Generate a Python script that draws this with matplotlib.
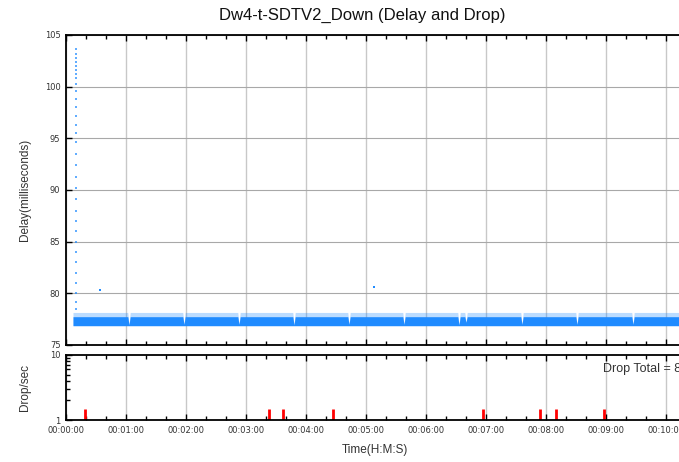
import numpy as np
import matplotlib
matplotlib.use("Agg")
import matplotlib.pyplot as plt
from matplotlib.ticker import FixedLocator, MultipleLocator, NullFormatter, FuncFormatter

plt.rcParams['font.family'] = ['Liberation Sans', 'DejaVu Sans']

# ---- delay data (seconds since start, milliseconds) ----
band_start = 7.0
band_end = 640.0
band_low = 76.87          # bottom of the dense delay band
band_high = 77.74         # top of the dense delay band
band_sparse_high = 78.15  # scattered samples above the band
# short dips where samples are missing
gap_times = [63, 118, 173, 228, 283, 338, 393, 400, 456, 511, 567, 622]
gap_depth = [76.95, 77.0, 77.0, 76.95, 77.0, 77.0, 76.95, 77.2, 77.0, 77.0, 77.0, 77.0]

# start-up spike around t=9s
spike_time = 9.6
spike_delay = [103.6, 103.2, 102.8, 102.4, 102.0, 101.6, 101.2, 100.8, 100.3, 99.6,
               98.8, 98.0, 97.2, 96.3, 95.5, 94.6, 93.5, 92.4, 91.3, 90.2, 89.1,
               88.0, 87.0, 86.0, 85.0, 84.0, 83.0, 82.0, 81.0, 80.0, 79.2, 78.5]
outlier_time = [34, 308]
outlier_delay = [80.3, 80.6]

# ---- drop data ----
drop_times = [19, 203, 217, 267, 417, 474, 490, 538]
drop_rate = [1.5, 1.5, 1.5, 1.5, 1.5, 1.5, 1.5, 1.5]

title = "Dw4-t-SDTV2_Down (Delay and Drop)"
blue = '#1f8bff'
txt = '#333333'


def hms(x, pos=None):
    s = int(round(x))
    return f"{s // 3600:02d}:{(s % 3600) // 60:02d}:{s % 60:02d}"


# build the outline of the band with notches at the gaps
t = [band_start]
hi = [band_high]
for g, d in zip(gap_times, gap_depth):
    t += [g - 1.2, g, g + 1.2]
    hi += [band_high, d, band_high]
t.append(band_end)
hi.append(band_high)
t = np.array(t)
hi = np.array(hi)
hi_sparse = np.where(hi < band_high, hi, band_sparse_high)

fig = plt.figure(figsize=(6.79, 4.62), dpi=100)
W, H = 679, 462
left = 66 / W
width = (684 - 66) / W
ax = fig.add_axes([left, 1 - 345 / H, width, (345 - 35) / H])
ax2 = fig.add_axes([left, 1 - 420 / H, width, (420 - 355) / H])

xmax = 618

# --- delay panel ---
ax.fill_between(t, band_low, hi_sparse, color=blue, alpha=0.3, lw=0)
ax.fill_between(t, band_low, hi, color=blue, lw=0)
ax.scatter([spike_time] * len(spike_delay), spike_delay, s=0.8, color=blue,
           marker='s', lw=0, alpha=0.7)
ax.scatter(outlier_time, outlier_delay, s=0.8, color=blue, marker='s', lw=0)

ax.set_xlim(0, xmax)
ax.set_ylim(75, 105)
ax.yaxis.set_major_locator(MultipleLocator(5))
ax.xaxis.set_major_locator(MultipleLocator(60))
ax.xaxis.set_minor_locator(MultipleLocator(20))
ax.xaxis.set_major_formatter(NullFormatter())
ax.grid(axis='x', color='#c8c8c8', lw=1.0)
ax.grid(axis='y', color='#a8a8a8', lw=0.8)
ax.set_axisbelow(True)
ax.set_ylabel("Delay(milliseconds)", fontsize=8.5, color=txt)

# --- drop panel ---
ax2.set_yscale('log')
ax2.vlines(drop_times, 1, drop_rate, color='#ff0000', lw=2.0)
ax2.set_xlim(0, xmax)
ax2.set_ylim(1, 10)
ax2.yaxis.set_major_locator(FixedLocator([1, 10]))
ax2.yaxis.set_major_formatter(FuncFormatter(lambda v, p: f"{int(v)}"))
ax2.yaxis.set_minor_locator(FixedLocator([2, 3, 4, 5, 6, 7, 8, 9]))
ax2.yaxis.set_minor_formatter(NullFormatter())
ax2.xaxis.set_major_locator(MultipleLocator(60))
ax2.xaxis.set_minor_locator(MultipleLocator(20))
ax2.xaxis.set_major_formatter(FuncFormatter(hms))
ax2.grid(axis='x', which='major', color='#c8c8c8', lw=1.0)
ax2.set_axisbelow(True)
ax2.set_ylabel("Drop/sec", fontsize=8.5, color=txt)
ax2.text(537, 0.785, f"Drop Total = {len(drop_times)}", fontsize=9, color=txt,
         transform=ax2.get_xaxis_transform(), ha='left', va='center')

for a in (ax, ax2):
    for sp in a.spines.values():
        sp.set_linewidth(1.3)
    a.tick_params(which='both', direction='in', top=True, right=False,
                  labelsize=6, labelcolor=txt, width=1.0)
    a.tick_params(which='major', length=4, pad=4)
    a.tick_params(which='minor', length=3)
    for lab in a.get_xticklabels() + a.get_yticklabels():
        lab.set_family('DejaVu Sans')

ax.yaxis.set_label_coords(-35 / (684 - 66), 0.5)
ax2.yaxis.set_label_coords(-35 / (684 - 66), 0.5)

fig.text(362 / W, 1 - 15 / H, title, fontsize=12, ha='center', va='center', color='#111111')
fig.text(375 / W, 1 - 450 / H, "Time(H:M:S)", fontsize=8.5, ha='center', va='center', color=txt)

fig.savefig("out.png", dpi=100)
